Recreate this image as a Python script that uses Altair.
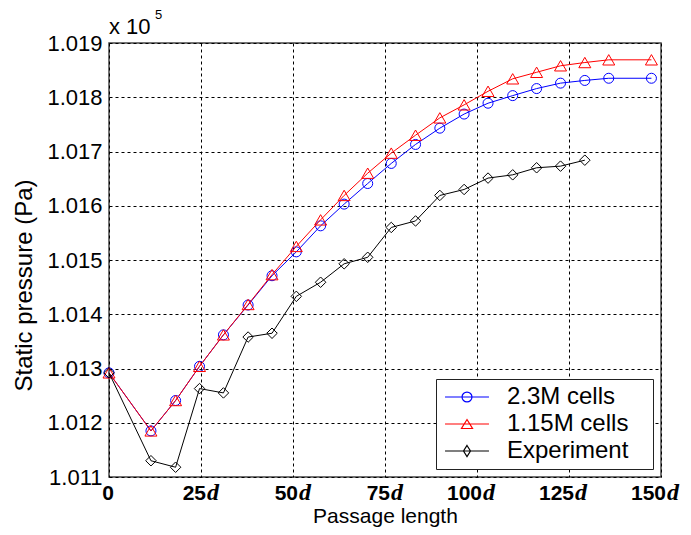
import altair as alt
import pandas as pd

series_names = ["2.3M cells", "1.15M cells", "Experiment"]
series_colors = ["#0000ff", "#ff0000", "#000000"]

# passage positions (in units of d)
x_sim = [0, 11.4, 18.1, 24.6, 31.1, 37.8, 44.3, 50.9, 57.5, 63.9, 70.3,
         76.7, 83.3, 89.9, 96.5, 103.0, 109.7, 116.2, 122.7, 129.3, 135.8, 147.4]
# static pressure, x 10^5 Pa
p_fine = [1.01292, 1.01185, 1.01241, 1.01304, 1.01362, 1.01417, 1.01471, 1.01515,
          1.01563, 1.01603, 1.01641, 1.01678, 1.01713, 1.01743, 1.01769, 1.01789,
          1.01803, 1.01816, 1.01826, 1.01831, 1.01835, 1.01835]
p_coarse = [1.01292, 1.01185, 1.01241, 1.01304, 1.01362, 1.01418, 1.01473, 1.01525,
            1.01574, 1.01619, 1.01660, 1.01697, 1.01730, 1.01762, 1.01786, 1.01811,
            1.01834, 1.01846, 1.01858, 1.01864, 1.01869, 1.01869]
x_exp = [0, 11.4, 18.1, 24.6, 31.1, 37.8, 44.3, 50.9, 57.5, 63.9, 70.3,
         76.7, 83.3, 89.9, 96.5, 103.0, 109.7, 116.2, 122.7, 129.3]
p_exp = [1.01292, 1.01130, 1.01118, 1.01263, 1.01255, 1.01358, 1.01365, 1.01433,
         1.01459, 1.01493, 1.01505, 1.01560, 1.01572, 1.01619, 1.01630, 1.01651,
         1.01657, 1.01670, 1.01673, 1.01684]

x_tick_values = [0, 25, 50, 75, 100, 125, 150]
x_tick_numbers = ["0", "25", "50", "75", "100", "125", "150"]
x_tick_suffix = ["", "d", "d", "d", "d", "d", "d"]
y_tick_values = [1.011, 1.012, 1.013, 1.014, 1.015, 1.016, 1.017, 1.018, 1.019]

W, H = 552, 434
FONT = "Liberation Sans"

df_fine = pd.DataFrame({"x": x_sim, "p": p_fine, "series": series_names[0]})
df_coarse = pd.DataFrame({"x": x_sim, "p": p_coarse, "series": series_names[1]})
df_exp = pd.DataFrame({"x": x_exp, "p": p_exp, "series": series_names[2]})
df_all = pd.concat([df_fine, df_coarse, df_exp], ignore_index=True)

xs = alt.Scale(domain=[0, 150], nice=False, zero=False)
ys = alt.Scale(domain=[1.011, 1.019], nice=False, zero=False)

x_axis = alt.Axis(values=x_tick_values, labels=False, ticks=False, domain=False,
                  grid=True, gridDash=[3, 3], gridColor="black", gridOpacity=1, gridWidth=1,
                  title="Passage length", titleFont=FONT, titleFontSize=21,
                  titleFontWeight="normal", titleColor="black",
                  titleY=45, titleBaseline="alphabetic")
y_axis = alt.Axis(values=y_tick_values, format=".3f", labelFont=FONT, labelFontSize=22,
                  labelColor="black", labelPadding=7, ticks=False, domain=False,
                  grid=True, gridDash=[3, 3], gridColor="black", gridOpacity=1, gridWidth=1,
                  title="Static pressure (Pa)", titleFont=FONT, titleFontSize=24,
                  titleFontWeight="normal", titleColor="black", titleAngle=270,
                  titleBaseline="alphabetic", titleAlign="center", titleX=-78, titleY=242)


def series_layers(df, color, shape, size):
    base = alt.Chart(df).encode(
        x=alt.X("x:Q", scale=xs, axis=x_axis),
        y=alt.Y("p:Q", scale=ys, axis=y_axis),
        order="x:Q",
    )
    line = base.mark_line(color=color, strokeWidth=1)
    pts = base.mark_point(color=color, shape=shape, size=size, strokeWidth=1,
                          filled=False, opacity=1)
    return [line, pts]


legend_paths = [
    "M-3.14,0H3.14M0.71,0A0.71,0.71 0 1,1 -0.71,0A0.71,0.71 0 1,1 0.71,0",
    "M-3.14,0H3.14M0,-0.64L0.79,0.64L-0.79,0.64Z",
    "M-3.14,0H3.14M0,-0.79L0.5,0L0,0.79L-0.5,0Z",
]

leg = alt.Legend(title=None, orient="bottom-right", offset=8, fillColor="white",
                 strokeColor="#222222", padding=6, symbolOffset=13,
                 labelFont=FONT, labelFontSize=24, labelColor="black", labelOffset=28,
                 labelExpr="datum.label + '\u2800'",
                 rowPadding=3, symbolOpacity=1, symbolSize=196, symbolStrokeWidth=1.2)

legend_layer = alt.Chart(df_all).mark_point(opacity=0, size=196, filled=False).encode(
    x=alt.X("x:Q", scale=xs, axis=x_axis),
    y=alt.Y("p:Q", scale=ys, axis=y_axis),
    color=alt.Color("series:N", scale=alt.Scale(domain=series_names, range=series_colors), legend=leg),
    shape=alt.Shape("series:N", scale=alt.Scale(domain=series_names, range=legend_paths), legend=leg),
)

tick_df = pd.DataFrame({"x": x_tick_values, "num": x_tick_numbers, "suffix": x_tick_suffix})
tick_nums = alt.Chart(tick_df).mark_text(
    align="right", baseline="alphabetic", dx=5, font=FONT, fontWeight="bold",
    fontSize=21, color="black"
).encode(x=alt.X("x:Q", scale=xs), y=alt.value(H + 23), text="num:N")
tick_d = alt.Chart(tick_df).mark_text(
    align="left", baseline="alphabetic", dx=6, font="Liberation Serif", fontStyle="italic",
    fontWeight="bold", fontSize=24, color="black"
).encode(x=alt.X("x:Q", scale=xs), y=alt.value(H + 23), text="suffix:N")

exp_df = pd.DataFrame({"t": ["x 10"], "s": ["5"]})
mult = alt.Chart(exp_df).mark_text(align="left", baseline="alphabetic", font=FONT,
                                   fontSize=22, color="black").encode(
    x=alt.value(0), y=alt.value(-9), text="t:N")
mult_sup = alt.Chart(exp_df).mark_text(align="left", baseline="alphabetic", font=FONT,
                                       fontSize=13, color="black").encode(
    x=alt.value(46), y=alt.value(-24), text="s:N")

layers = (series_layers(df_fine, series_colors[0], "circle", 100)
          + series_layers(df_coarse, series_colors[1], "triangle-up", 144)
          + series_layers(df_exp, series_colors[2], "diamond", 110)
          + [legend_layer, tick_nums, tick_d, mult, mult_sup])

chart = alt.layer(*layers).properties(
    width=W, height=H,
    autosize=alt.AutoSizeParams(type="none"),
    padding={"left": 101, "top": 35, "right": 22, "bottom": 50},
    background="white",
).configure_view(stroke="#444444", strokeWidth=1.5)

chart.save("out.html", embed_options={"renderer": "svg", "actions": False})
